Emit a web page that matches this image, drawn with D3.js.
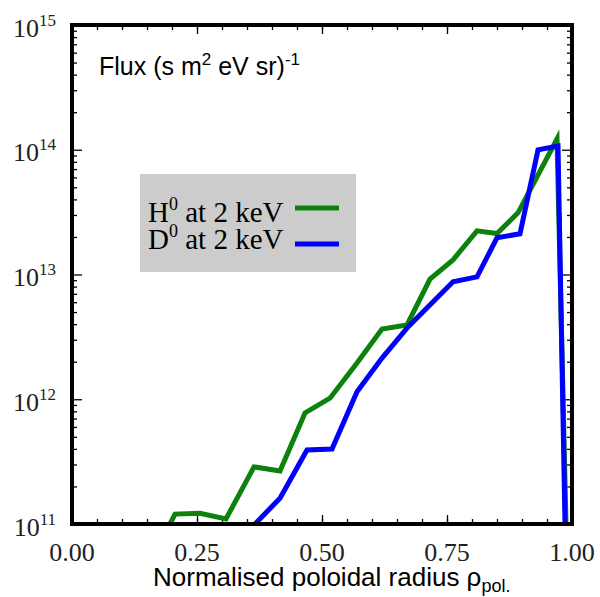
<!DOCTYPE html>
<html>
<head>
<meta charset="utf-8">
<script src="https://cdn.jsdelivr.net/npm/d3@7"></script>
<style>
  html, body { margin: 0; padding: 0; background: #fff; }
  svg { display: block; }
</style>
</head>
<body>
<svg id="chart" width="600" height="597"></svg>
<script>
// Neutral flux profiles versus normalised poloidal radius
const hRho  = [0.196, 0.206, 0.256, 0.308, 0.364, 0.416, 0.466, 0.516, 0.570, 0.620, 0.670, 0.716, 0.762, 0.810, 0.850, 0.892, 0.970, 0.988];
const hFlux = [1.0e11, 1.20e11, 1.22e11, 1.10e11, 2.87e11, 2.66e11, 7.77e11, 1.02e12, 1.95e12, 3.66e12, 3.94e12, 9.2e12, 1.31e13, 2.24e13, 2.13e13, 3.12e13, 1.22e14, 1.0e11];

const dRho  = [0.366, 0.416, 0.470, 0.520, 0.570, 0.620, 0.672, 0.762, 0.810, 0.850, 0.896, 0.932, 0.972, 0.986];
const dFlux = [1.0e11, 1.61e11, 3.92e11, 3.99e11, 1.15e12, 2.14e12, 3.80e12, 8.73e12, 9.57e12, 1.97e13, 2.12e13, 9.98e13, 1.07e14, 1.0e11];

const seriesNames = ["H", "D"];
const seriesColors = ["#0c820c", "#0000ff"];

const xTicks = [0, 0.25, 0.5, 0.75, 1.0];
const xTickLabels = ["0.00", "0.25", "0.50", "0.75", "1.00"];
const yExponents = [11, 12, 13, 14, 15];

const svg = d3.select("#chart");
const L = 72, R = 572, T = 25, B = 524;

const x = d3.scaleLinear().domain([0, 1]).range([L, R]);
const y = d3.scaleLog().domain([1e11, 1e15]).range([B, T]);

svg.append("rect").attr("width", 600).attr("height", 597).attr("fill", "#fff");

svg.append("defs").append("clipPath").attr("id", "plotClip")
  .append("rect").attr("x", L).attr("y", T).attr("width", R - L).attr("height", B - T);

// minor and major ticks on all four sides, pointing inward
const minorX = d3.range(0, 1.0001, 0.05);
const minorY = [];
for (let e = 11; e < 15; e++) for (let m = 2; m <= 9; m++) minorY.push(m * Math.pow(10, e));
const majorY = yExponents.map(e => Math.pow(10, e));

function tickAxis(axisFn, scale, values, size, transform) {
  const g = svg.append("g").attr("transform", transform)
    .call(axisFn(scale).tickValues(values).tickSize(size).tickFormat(""));
  g.select(".domain").remove();
  g.selectAll(".tick line").attr("stroke", "#000").attr("stroke-width", 1.3);
  return g;
}
tickAxis(d3.axisBottom, x, minorX, -5, `translate(0,${B})`);
tickAxis(d3.axisBottom, x, xTicks, -9, `translate(0,${B})`);
tickAxis(d3.axisTop, x, minorX, -5, `translate(0,${T})`);
tickAxis(d3.axisTop, x, xTicks, -9, `translate(0,${T})`);
tickAxis(d3.axisLeft, y, minorY, -5, `translate(${L},0)`);
tickAxis(d3.axisLeft, y, majorY, -10, `translate(${L},0)`);
tickAxis(d3.axisRight, y, minorY, -5, `translate(${R},0)`);
tickAxis(d3.axisRight, y, majorY, -10, `translate(${R},0)`);

// data lines
const line = d3.line().x(d => x(d[0])).y(d => y(d[1]));
const plot = svg.append("g").attr("clip-path", "url(#plotClip)");
const series = [
  d3.zip(hRho, hFlux),
  d3.zip(dRho, dFlux)
];
series.forEach((pts, i) => {
  plot.append("path").datum(pts)
    .attr("d", line)
    .attr("fill", "none")
    .attr("stroke", seriesColors[i])
    .attr("stroke-width", 5)
    .attr("stroke-linejoin", "miter");
});

// frame
svg.append("rect").attr("x", L).attr("y", T).attr("width", R - L).attr("height", B - T)
  .attr("fill", "none").attr("stroke", "#000").attr("stroke-width", 4);

// x tick labels
svg.append("g").selectAll("text").data(xTicks).join("text")
  .attr("x", d => x(d)).attr("y", 561)
  .attr("text-anchor", "middle")
  .attr("font-family", "'Liberation Serif', 'Times New Roman', serif")
  .attr("font-size", 26)
  .attr("fill", "#222")
  .text((d, i) => xTickLabels[i]);

// y tick labels (powers of ten)
const yl = svg.append("g").selectAll("text").data(yExponents).join("text")
  .attr("x", 56).attr("y", d => y(Math.pow(10, d)) + 11.5)
  .attr("text-anchor", "end")
  .attr("font-family", "'Liberation Serif', 'Times New Roman', serif")
  .attr("font-size", 26)
  .attr("fill", "#222");
yl.append("tspan").text("10");
yl.append("tspan").attr("dy", -11).attr("font-size", 17).text(d => d);

// quantity label inside the plot
const ft = svg.append("text").attr("x", 99).attr("y", 75)
  .attr("font-family", "'Liberation Sans', Arial, sans-serif")
  .attr("font-size", 25).attr("fill", "#000");
ft.append("tspan").text("Flux (s m");
ft.append("tspan").attr("dy", -10).attr("font-size", 17).text("2");
ft.append("tspan").attr("dy", 10).text(" eV sr)");
ft.append("tspan").attr("dy", -10).attr("font-size", 17).text("-1");

// x axis title
const xt = svg.append("text").attr("x", 153).attr("y", 586)
  .attr("font-family", "'Liberation Sans', Arial, sans-serif")
  .attr("font-size", 26).attr("fill", "#000");
xt.append("tspan").text("Normalised poloidal radius \u03c1");
xt.append("tspan").attr("dy", 6).attr("font-size", 18).text("pol.");

// legend
const lg = svg.append("g");
lg.append("rect").attr("x", 140).attr("y", 174).attr("width", 216).attr("height", 98).attr("fill", "#cccccc");
const legendRows = [222, 249];
const lineRows = [208, 244];
seriesNames.forEach((name, i) => {
  const t = lg.append("text").attr("x", 148).attr("y", legendRows[i])
    .attr("font-family", "'Liberation Serif', 'Times New Roman', serif")
    .attr("font-size", 29).attr("fill", "#000");
  t.append("tspan").text(name);
  t.append("tspan").attr("dy", -12).attr("font-size", 18).text("0");
  t.append("tspan").attr("dy", 12).text(" at 2 keV");
  lg.append("line").attr("x1", 295).attr("x2", 339)
    .attr("y1", lineRows[i]).attr("y2", lineRows[i])
    .attr("stroke", seriesColors[i]).attr("stroke-width", 5);
});
</script>
</body>
</html>
